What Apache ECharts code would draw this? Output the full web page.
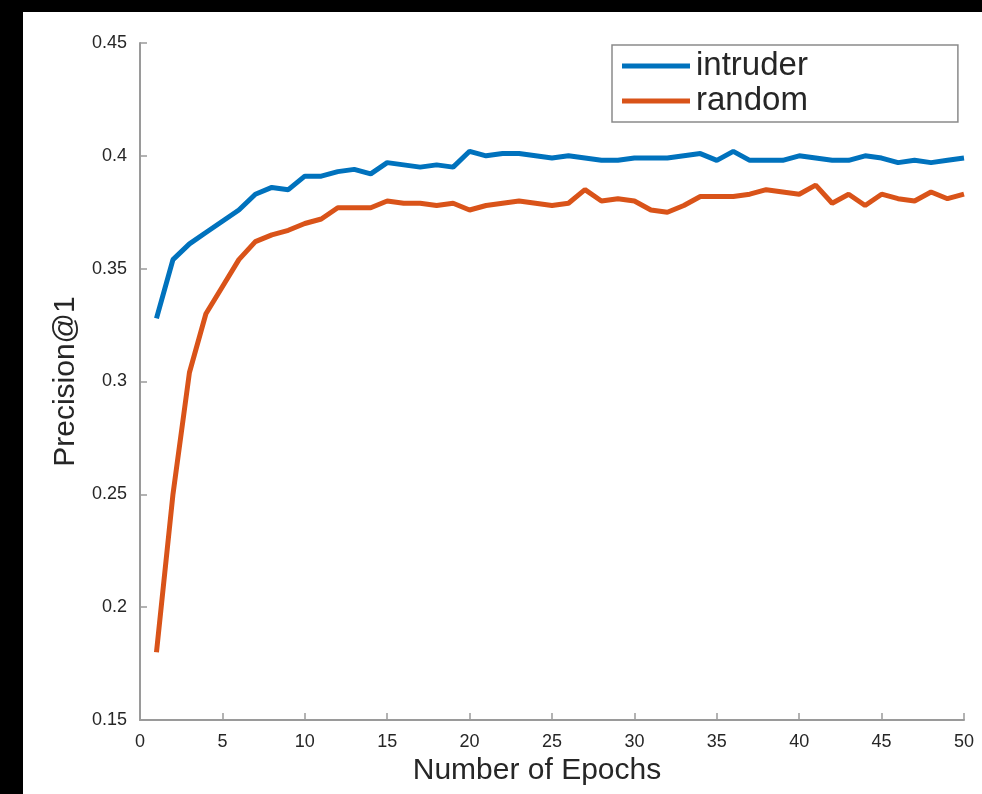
<!DOCTYPE html>
<html>
<head>
<meta charset="utf-8">
<script src="https://cdn.jsdelivr.net/npm/echarts@6/dist/echarts.min.js"></script>
<style>
  html, body { margin: 0; padding: 0; background: #000; width: 982px; height: 794px; overflow: hidden; }
  #chart { position: absolute; left: 23px; top: 12px; width: 959px; height: 782px; background: #fff; }
</style>
</head>
<body>
<div id="chart"></div>
<script>
  // epochs 1..50
  const epochs = [1,2,3,4,5,6,7,8,9,10,11,12,13,14,15,16,17,18,19,20,21,22,23,24,25,
    26,27,28,29,30,31,32,33,34,35,36,37,38,39,40,41,42,43,44,45,46,47,48,49,50]
  const intruder = [0.328,0.354,0.361,0.366,0.371,0.376,0.383,0.386,0.385,0.391,
    0.391,0.393,0.394,0.392,0.397,0.396,0.395,0.396,0.395,0.402,
    0.400,0.401,0.401,0.400,0.399,0.400,0.399,0.398,0.398,0.399,
    0.399,0.399,0.400,0.401,0.398,0.402,0.398,0.398,0.398,0.400,
    0.399,0.398,0.398,0.400,0.399,0.397,0.398,0.397,0.398,0.399]
  const random = [0.180,0.250,0.304,0.330,0.342,0.354,0.362,0.365,0.367,0.370,
    0.372,0.377,0.377,0.377,0.380,0.379,0.379,0.378,0.379,0.376,
    0.378,0.379,0.380,0.379,0.378,0.379,0.385,0.380,0.381,0.380,
    0.376,0.375,0.378,0.382,0.382,0.382,0.383,0.385,0.384,0.383,
    0.387,0.379,0.383,0.378,0.383,0.381,0.380,0.384,0.381,0.383]
  const xTicks = [0,5,10,15,20,25,30,35,40,45,50]
  const yTicks = [0.15,0.2,0.25,0.3,0.35,0.4,0.45]

  const font = 'Liberation Sans, Arial, sans-serif'
  const textColor = '#262626'
  const axisColor = '#9a9a9a'

  let chart = echarts.init(document.getElementById('chart'))
  chart.setOption({
    animation: false,
    backgroundColor: '#fff',
    grid: { left: 117, top: 31, right: 18, bottom: 74 },
    legend: {
      left: 589,
      top: 33,
      orient: 'vertical',
      itemWidth: 68,
      itemHeight: 5,
      itemGap: 1,
      padding: [4, 150, 4, 10],
      borderColor: '#8a8a8a',
      borderWidth: 1.5,
      textStyle: { fontFamily: font, fontSize: 33, lineHeight: 34, color: textColor, padding: [0, 0, 0, 1] },
      data: [
        { name: 'intruder', icon: 'rect' },
        { name: 'random', icon: 'rect' }
      ]
    },
    xAxis: {
      type: 'value',
      min: xTicks[0],
      max: xTicks[xTicks.length - 1],
      interval: 5,
      name: 'Number of Epochs',
      nameLocation: 'middle',
      nameGap: 34,
      nameTextStyle: { fontFamily: font, fontSize: 30, color: textColor, padding: [0, 30, 0, 0] },
      axisLine: { lineStyle: { color: axisColor, width: 2 } },
      axisTick: { inside: true, length: 7, lineStyle: { color: axisColor, width: 1.5 } },
      axisLabel: { fontFamily: font, fontSize: 18, color: textColor, margin: 13 },
      splitLine: { show: false }
    },
    yAxis: {
      type: 'value',
      min: yTicks[0],
      max: yTicks[yTicks.length - 1],
      interval: 0.05,
      name: 'Precision@1',
      nameLocation: 'middle',
      nameGap: 58,
      nameTextStyle: { fontFamily: font, fontSize: 30, color: textColor },
      axisLine: { show: true, lineStyle: { color: axisColor, width: 2 } },
      axisTick: { show: true, inside: true, length: 7, lineStyle: { color: axisColor, width: 1.5 } },
      axisLabel: {
        fontFamily: font, fontSize: 18, color: textColor, margin: 13,
        formatter: v => String(+v.toFixed(2))
      },
      splitLine: { show: false }
    },
    series: [{
      name: 'intruder',
      type: 'line',
      data: epochs.map((e, i) => [e, intruder[i]]),
      showSymbol: false,
      color: '#0072BD',
      lineStyle: { width: 5, color: '#0072BD' }
    }, {
      name: 'random',
      type: 'line',
      data: epochs.map((e, i) => [e, random[i]]),
      showSymbol: false,
      color: '#D95319',
      lineStyle: { width: 5, color: '#D95319' }
    }]
  })
</script>
</body>
</html>
